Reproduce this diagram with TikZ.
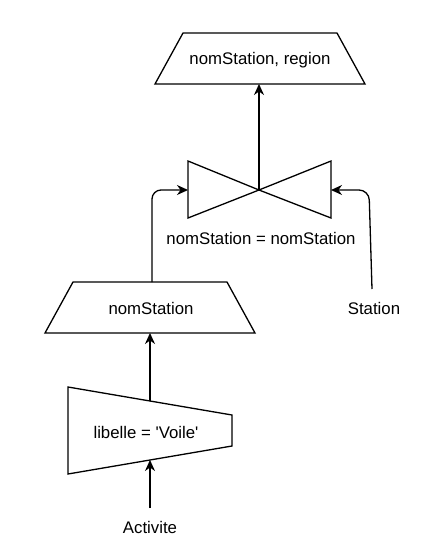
\documentclass[tikz,border=0pt]{standalone}
\usepackage{fontspec}
\setmainfont{Liberation Sans}
\usetikzlibrary{arrows.meta}
\begin{document}
\begin{tikzpicture}[x=1pt,y=-1pt,
  shp/.style={draw=black,line width=1.3pt,line join=miter,fill=white},
  lbl/.style={inner sep=0pt,font=\fontsize{16.8}{20}\selectfont},
  arr/.style={draw=black,line width=1.3pt,-{Stealth[length=11pt,width=10pt,inset=3.5pt]}}]
\useasboundingbox (0,0) rectangle (447,560);
% result projection
\draw[shp] (183,33) -- (337,33) -- (365,84) -- (155,84) -- cycle;
\node[lbl] (res) at (260,60) {nomStation, region};
\coordinate (resB) at (259,84);
% join
\draw[shp] (188,161) -- (259,190) -- (188,218) -- cycle;
\draw[shp] (331,161) -- (259,190) -- (331,218) -- cycle;
\coordinate (join) at (259,190);
\coordinate (joinL) at (188,190);
\coordinate (joinR) at (331,190);
\node[lbl] (cond) at (261,238) {nomStation = nomStation};
% projection nomStation
\draw[shp] (73,282) -- (227,282) -- (255,333) -- (45,333) -- cycle;
\node[lbl] (proj) at (151,308) {nomStation};
\coordinate (projT) at (152,282);
\coordinate (projB) at (150,333);
\node[lbl] (station) at (374,308) {Station};
\coordinate (stT) at (372,289);
\coordinate (stC) at (369,190);
% selection
\draw[shp] (68,387) -- (232,415) -- (232,446) -- (68,474) -- cycle;
\node[lbl] (sel) at (146,432) {libelle = \textquotesingle Voile\textquotesingle};
\coordinate (selT) at (150,401);
\coordinate (selB) at (150,460);
\node[lbl] (act) at (150,527) {Activite};
\coordinate (actT) at (150,508);
\coordinate (projC) at (152,190);
% connectors
\draw[arr] (actT) -- (selB);
\draw[arr] (selT) -- (projB);
\draw[arr,rounded corners=9pt] (projT) -- (projC) -- (joinL);
\draw[arr,rounded corners=10pt] (stT) -- (stC) -- (joinR);
\draw[arr] (join) -- (resB);
\end{tikzpicture}
\end{document}
